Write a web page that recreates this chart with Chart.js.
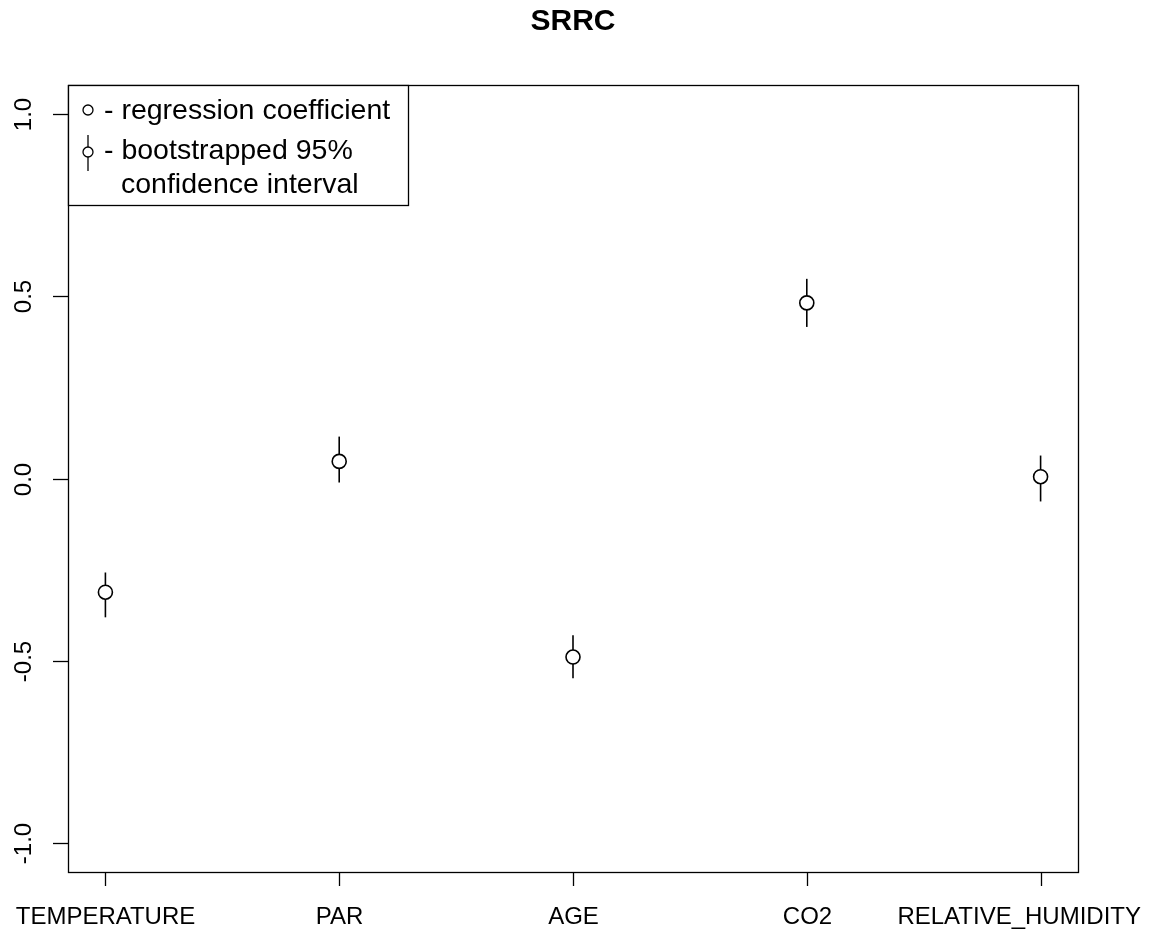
<!DOCTYPE html>
<html>
<head>
<meta charset="utf-8">
<title>SRRC</title>
<script src="https://cdn.jsdelivr.net/npm/chart.js@4/dist/chart.umd.min.js"></script>
<style>
  body { margin: 0; background: #fff; }
  #wrap { width: 1151px; height: 934px; }
</style>
</head>
<body>
<div id="wrap"><canvas id="srrcChart" width="1151" height="934"></canvas></div>
<script>
// data
var categories = ["TEMPERATURE", "PAR", "AGE", "CO2", "RELATIVE_HUMIDITY"];
var coefficients = [-0.312, 0.047, -0.490, 0.482, 0.005];
var ciLower = [-0.381, -0.011, -0.548, 0.416, -0.063];
var ciUpper = [-0.258, 0.115, -0.430, 0.548, 0.063];
var yTicks = [-1.0, -0.5, 0.0, 0.5, 1.0];

var FONT = '"Liberation Sans", Arial, Helvetica, sans-serif';

// one small line dataset per interval
var datasets = [];
for (var i = 0; i < categories.length; i++) {
    datasets.push({
        data: [{ x: i + 1, y: ciLower[i] }, { x: i + 1, y: ciUpper[i] }],
        showLine: true,
        borderColor: "#000",
        borderWidth: 1.6,
        pointRadius: 0,
        order: 2
    });
}
datasets.push({
    data: coefficients.map(function (v, i) { return { x: i + 1, y: v }; }),
    showLine: false,
    pointRadius: 7,
    pointBorderWidth: 1.6,
    pointBorderColor: "#000",
    pointBackgroundColor: "#fff",
    order: 1
});

// R-style frame, axes, title and legend
var rDecor = {
    id: "rDecor",
    afterDatasetsDraw: function (chart) {
        var ctx = chart.ctx;
        var a = chart.chartArea;
        var xs = chart.scales.x, ys = chart.scales.y;
        ctx.save();
        ctx.strokeStyle = "#000";
        ctx.fillStyle = "#000";
        ctx.lineWidth = 1.3;

        // box
        ctx.strokeRect(a.left + 0.5, a.top + 0.5, a.right - a.left, a.bottom - a.top);

        // x ticks + labels (keep the last one inside the canvas)
        ctx.font = "24px " + FONT;
        ctx.textAlign = "center";
        ctx.textBaseline = "middle";
        categories.forEach(function (c, i) {
            var px = Math.round(xs.getPixelForValue(i + 1)) + 0.5;
            ctx.beginPath();
            ctx.moveTo(px, a.bottom);
            ctx.lineTo(px, a.bottom + 14);
            ctx.stroke();
            var w = ctx.measureText(c).width;
            var cx = Math.min(px, chart.width - 10 - w / 2);
            ctx.fillText(c, cx, a.bottom + 45);
        });

        // y ticks + rotated labels
        yTicks.forEach(function (t) {
            var py = Math.round(ys.getPixelForValue(t)) + 0.5;
            ctx.beginPath();
            ctx.moveTo(a.left, py);
            ctx.lineTo(a.left - 15, py);
            ctx.stroke();
            ctx.save();
            ctx.translate(a.left - 44, py);
            ctx.rotate(-Math.PI / 2);
            ctx.fillText(t.toFixed(1), 0, 0);
            ctx.restore();
        });

        // title
        ctx.font = "bold 30px " + FONT;
        ctx.fillText("SRRC", (a.left + a.right) / 2, 22);

        // legend box
        var lx = a.left, ly = a.top, lw = 340, lh = 120;
        ctx.fillStyle = "#fff";
        ctx.fillRect(lx, ly, lw, lh);
        ctx.strokeRect(lx + 0.5, ly + 0.5, lw, lh);
        ctx.fillStyle = "#000";
        ctx.font = "28.5px " + FONT;
        ctx.textAlign = "left";
        ctx.textBaseline = "alphabetic";
        ctx.lineWidth = 1.3;
        ctx.beginPath();
        ctx.arc(lx + 20, ly + 25, 5, 0, Math.PI * 2);
        ctx.stroke();
        ctx.fillText("- regression coefficient", lx + 36, ly + 34);
        ctx.beginPath();
        ctx.moveTo(lx + 20, ly + 50);
        ctx.lineTo(lx + 20, ly + 86);
        ctx.stroke();
        ctx.beginPath();
        ctx.arc(lx + 20, ly + 67, 5, 0, Math.PI * 2);
        ctx.fillStyle = "#fff";
        ctx.fill();
        ctx.stroke();
        ctx.fillStyle = "#000";
        ctx.fillText("- bootstrapped 95%", lx + 36, ly + 74);
        ctx.fillText("confidence interval", lx + 53, ly + 108);
        ctx.restore();
    }
};

var chart = new Chart(document.getElementById("srrcChart").getContext("2d"), {
    type: "scatter",
    data: { datasets: datasets },
    options: {
        responsive: false,
        animation: false,
        layout: { padding: { left: 68, right: 73, top: 85, bottom: 62 } },
        plugins: { legend: { display: false }, tooltip: { enabled: false } },
        scales: {
            x: { type: "linear", min: 0.84, max: 5.16, display: false },
            y: { type: "linear", min: -1.08, max: 1.08, display: false }
        }
    },
    plugins: [rDecor]
});
</script>
</body>
</html>
